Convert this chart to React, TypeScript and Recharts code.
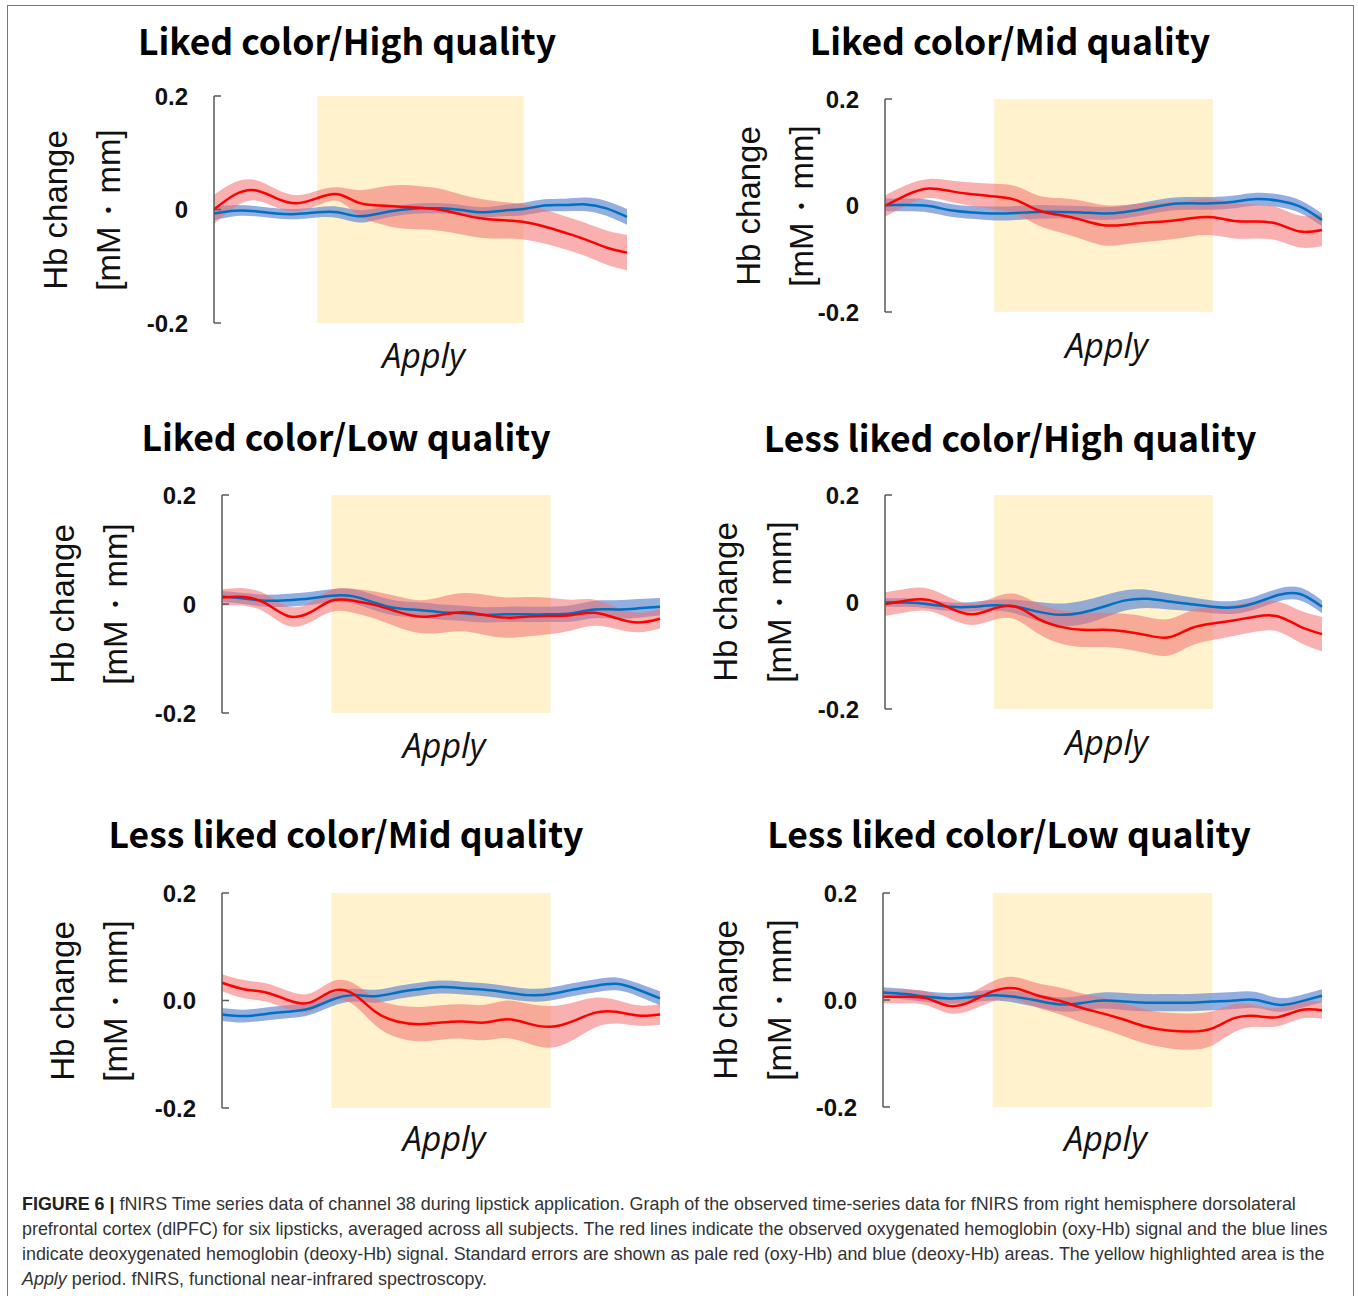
import React from "react";
import {
  ComposedChart,
  Line,
  Area,
  XAxis,
  YAxis,
  ReferenceArea,
} from "recharts";

// time (s) of each sample
const TIME = [0, 2, 4, 6, 8, 10, 12, 14, 16, 18, 20, 22, 24, 26, 28, 30, 32, 34, 36, 38, 40];
const APPLY_PERIOD = [10, 30];
const Y_TICKS = [0.2, 0, -0.2];
const TICK_LABELS_A = ["0.2", "0", "-0.2"];
const TICK_LABELS_B = ["0.2", "0.0", "-0.2"];

const TITLES = [
  "Liked color/High quality",
  "Liked color/Mid quality",
  "Liked color/Low quality",
  "Less liked color/High quality",
  "Less liked color/Mid quality",
  "Less liked color/Low quality",
];

// Liked color / High quality
const LH_OXY = [0.0, 0.026, 0.034, 0.02, 0.011, 0.02, 0.027, 0.012, 0.007, 0.005, 0.003, -0.001, -0.009, -0.016, -0.019, -0.022, -0.03, -0.041, -0.053, -0.067, -0.076];
const LH_OXY_SE = [0.026, 0.022, 0.018, 0.016, 0.014, 0.013, 0.012, 0.022, 0.032, 0.038, 0.038, 0.037, 0.035, 0.034, 0.032, 0.031, 0.03, 0.029, 0.029, 0.03, 0.031];
const LH_DEOXY = [-0.007, -0.002, -0.003, -0.007, -0.008, -0.005, -0.005, -0.012, -0.007, -0.001, 0.002, 0.002, -0.001, -0.005, -0.002, 0.001, 0.007, 0.008, 0.009, 0.002, -0.013];
const LH_DEOXY_SE = [0.012, 0.01, 0.009, 0.009, 0.009, 0.009, 0.01, 0.011, 0.01, 0.009, 0.009, 0.009, 0.009, 0.009, 0.01, 0.011, 0.011, 0.011, 0.012, 0.013, 0.014];

// Liked color / Mid quality
const LM_OXY = [-0.001, 0.02, 0.032, 0.027, 0.021, 0.017, 0.01, -0.009, -0.018, -0.027, -0.037, -0.036, -0.032, -0.029, -0.024, -0.022, -0.029, -0.03, -0.035, -0.049, -0.046];
const LM_OXY_SE = [0.02, 0.019, 0.018, 0.02, 0.022, 0.024, 0.026, 0.028, 0.032, 0.036, 0.038, 0.037, 0.036, 0.035, 0.034, 0.034, 0.033, 0.032, 0.031, 0.03, 0.03];
const LM_DEOXY = [0.001, 0.001, -0.001, -0.009, -0.013, -0.015, -0.014, -0.012, -0.012, -0.013, -0.015, -0.012, -0.005, 0.002, 0.004, 0.004, 0.007, 0.012, 0.009, -0.002, -0.027];
const LM_DEOXY_SE = [0.012, 0.012, 0.012, 0.012, 0.012, 0.013, 0.013, 0.013, 0.012, 0.012, 0.012, 0.012, 0.012, 0.012, 0.012, 0.012, 0.012, 0.012, 0.012, 0.012, 0.012];

// Liked color / Low quality
const LL_OXY = [0.012, 0.013, 0.001, -0.022, -0.016, 0.006, 0.006, -0.002, -0.014, -0.023, -0.02, -0.015, -0.02, -0.025, -0.023, -0.022, -0.02, -0.016, -0.026, -0.034, -0.027];
const LL_OXY_SE = [0.015, 0.016, 0.017, 0.018, 0.018, 0.02, 0.022, 0.025, 0.028, 0.03, 0.033, 0.035, 0.037, 0.037, 0.036, 0.033, 0.028, 0.024, 0.02, 0.018, 0.018];
const LL_DEOXY = [0.014, 0.01, 0.006, 0.007, 0.01, 0.015, 0.014, 0.002, -0.008, -0.011, -0.015, -0.017, -0.02, -0.019, -0.019, -0.019, -0.017, -0.01, -0.01, -0.008, -0.005];
const LL_DEOXY_SE = [0.01, 0.01, 0.011, 0.012, 0.012, 0.012, 0.013, 0.014, 0.014, 0.014, 0.014, 0.014, 0.014, 0.014, 0.014, 0.014, 0.015, 0.016, 0.017, 0.017, 0.016];

// Less liked color / High quality
const NH_OXY = [-0.004, 0.003, 0.004, -0.012, -0.023, -0.012, -0.009, -0.031, -0.046, -0.052, -0.052, -0.055, -0.062, -0.066, -0.049, -0.04, -0.034, -0.027, -0.027, -0.046, -0.06];
const NH_OXY_SE = [0.022, 0.022, 0.021, 0.02, 0.02, 0.021, 0.024, 0.028, 0.031, 0.032, 0.032, 0.033, 0.034, 0.034, 0.033, 0.031, 0.029, 0.028, 0.028, 0.03, 0.032];
const NH_DEOXY = [-0.001, -0.001, -0.004, -0.009, -0.009, -0.006, -0.009, -0.018, -0.024, -0.02, -0.009, 0.003, 0.006, 0.001, -0.004, -0.009, -0.01, -0.001, 0.013, 0.015, -0.009];
const NH_DEOXY_SE = [0.008, 0.008, 0.008, 0.008, 0.009, 0.01, 0.013, 0.018, 0.021, 0.022, 0.021, 0.019, 0.017, 0.015, 0.013, 0.012, 0.012, 0.012, 0.012, 0.012, 0.012];

// Less liked color / Mid quality
const NM_OXY = [0.033, 0.021, 0.015, 0.001, -0.004, 0.017, 0.012, -0.021, -0.039, -0.044, -0.041, -0.039, -0.041, -0.035, -0.043, -0.049, -0.039, -0.023, -0.021, -0.028, -0.026];
const NM_OXY_SE = [0.016, 0.017, 0.017, 0.017, 0.017, 0.018, 0.02, 0.025, 0.03, 0.032, 0.032, 0.032, 0.033, 0.035, 0.037, 0.039, 0.035, 0.028, 0.022, 0.019, 0.019];
const NM_DEOXY = [-0.026, -0.029, -0.025, -0.021, -0.015, 0.001, 0.01, 0.008, 0.015, 0.021, 0.025, 0.023, 0.02, 0.015, 0.01, 0.012, 0.02, 0.027, 0.031, 0.02, 0.004];
const NM_DEOXY_SE = [0.012, 0.012, 0.012, 0.012, 0.012, 0.012, 0.012, 0.012, 0.012, 0.012, 0.012, 0.012, 0.012, 0.012, 0.012, 0.012, 0.012, 0.012, 0.012, 0.012, 0.013];

// Less liked color / Low quality
const NL_OXY = [0.006, 0.006, 0.003, -0.011, -0.003, 0.016, 0.022, 0.009, -0.001, -0.014, -0.025, -0.037, -0.05, -0.057, -0.059, -0.053, -0.034, -0.03, -0.032, -0.019, -0.019];
const NL_OXY_SE = [0.012, 0.012, 0.013, 0.014, 0.016, 0.019, 0.021, 0.023, 0.025, 0.027, 0.029, 0.031, 0.032, 0.033, 0.034, 0.032, 0.026, 0.02, 0.017, 0.016, 0.016];
const NL_DEOXY = [0.014, 0.011, 0.006, 0.003, 0.005, 0.009, 0.006, -0.001, -0.008, -0.006, -0.001, -0.003, -0.005, -0.005, -0.005, -0.003, -0.001, 0.0, -0.009, -0.003, 0.008];
const NL_DEOXY_SE = [0.01, 0.01, 0.01, 0.01, 0.01, 0.01, 0.011, 0.012, 0.013, 0.014, 0.015, 0.016, 0.016, 0.016, 0.016, 0.016, 0.016, 0.015, 0.013, 0.012, 0.012];

const CAPTION_LINES = [
  "fNIRS Time series data of channel 38 during lipstick application. Graph of the observed time-series data for fNIRS from right hemisphere dorsolateral",
  "prefrontal cortex (dlPFC) for six lipsticks, averaged across all subjects. The red lines indicate the observed oxygenated hemoglobin (oxy-Hb) signal and the blue lines",
  "indicate deoxygenated hemoglobin (deoxy-Hb) signal. Standard errors are shown as pale red (oxy-Hb) and blue (deoxy-Hb) areas. The yellow highlighted area is the",
  "period. fNIRS, functional near-infrared spectroscopy.",
];

const series = [
  [LH_OXY, LH_OXY_SE, LH_DEOXY, LH_DEOXY_SE],
  [LM_OXY, LM_OXY_SE, LM_DEOXY, LM_DEOXY_SE],
  [LL_OXY, LL_OXY_SE, LL_DEOXY, LL_DEOXY_SE],
  [NH_OXY, NH_OXY_SE, NH_DEOXY, NH_DEOXY_SE],
  [NM_OXY, NM_OXY_SE, NM_DEOXY, NM_DEOXY_SE],
  [NL_OXY, NL_OXY_SE, NL_DEOXY, NL_DEOXY_SE],
];

// plot box of each panel on the page, plus where its texts sit
const layout = [
  { axisX: 214, right: 627, top: 96, bottom: 323, titleX: 347, titleY: 40, hbX: 55, unitX: 108, applyY: 355, ticks: TICK_LABELS_A },
  { axisX: 885, right: 1322, top: 99, bottom: 312, titleX: 1010, titleY: 40, hbX: 748, unitX: 801, applyY: 345, ticks: TICK_LABELS_A },
  { axisX: 222, right: 660, top: 495, bottom: 713, titleX: 346, titleY: 436, hbX: 62, unitX: 115, applyY: 745, ticks: TICK_LABELS_A },
  { axisX: 885, right: 1322, top: 495, bottom: 709, titleX: 1010, titleY: 437, hbX: 725, unitX: 779, applyY: 742, ticks: TICK_LABELS_A },
  { axisX: 222, right: 660, top: 893, bottom: 1108, titleX: 346, titleY: 833, hbX: 62, unitX: 115, applyY: 1138, ticks: TICK_LABELS_B },
  { axisX: 883, right: 1322, top: 893, bottom: 1107, titleX: 1009, titleY: 833, hbX: 725, unitX: 779, applyY: 1138, ticks: TICK_LABELS_B },
];

const AXIS_W = 80;
const PAD = 20;

function makeTick(labels: string[]) {
  return (props: any) => {
    const { x, y, payload } = props;
    const i = Y_TICKS.indexOf(payload.value);
    return (
      <g>
        <line x1={x} x2={x + 7} y1={y} y2={y} stroke="#595959" strokeWidth={1.5} />
        <text
          x={x - 26}
          y={y}
          textAnchor="end"
          dominantBaseline="central"
          style={{ fontFamily: "Liberation Sans, Arial, sans-serif", fontWeight: 700, fontSize: 24 }}
          fill="#111"
        >
          {labels[i]}
        </text>
      </g>
    );
  };
}

const abs = (extra: React.CSSProperties): React.CSSProperties => ({
  position: "absolute",
  whiteSpace: "nowrap",
  lineHeight: 1,
  ...extra,
});

function Panel({ idx }: { idx: number }) {
  const p = layout[idx];
  const [oxy, oxySe, deoxy, deoxySe] = series[idx];
  const rows = TIME.map((t, i) => ({
    t,
    oxy: oxy[i],
    deoxy: deoxy[i],
    oxyBand: [oxy[i] - oxySe[i], oxy[i] + oxySe[i]],
    deoxyBand: [deoxy[i] - deoxySe[i], deoxy[i] + deoxySe[i]],
  }));
  const w = AXIS_W + (p.right - p.axisX) + PAD;
  const h = p.bottom - p.top + PAD * 2;
  const applyCx = (p.axisX + p.right) / 2;
  const midY = (p.top + p.bottom) / 2;

  return (
    <>
      <div style={abs({ left: p.titleX, top: p.titleY, transform: "translate(-50%,-50%)", fontFamily: "Noto Sans CJK JP, Noto Sans, sans-serif", fontWeight: 700, fontSize: 35.5, color: "#000" })}>
        {TITLES[idx]}
      </div>
      <div style={abs({ left: p.hbX, top: midY, transform: "translate(-50%,-50%) rotate(-90deg)", fontFamily: "Liberation Sans, Arial, sans-serif", fontSize: 33, color: "#111" })}>
        Hb change
      </div>
      <div style={abs({ left: p.unitX, top: midY, transform: "translate(-50%,-50%) rotate(-90deg)", fontFamily: "Liberation Sans, Arial, sans-serif", fontSize: 33, color: "#111" })}>
        [mM・mm]
      </div>
      <div style={abs({ left: applyCx + 3, top: p.applyY, transform: "translate(-50%,-50%)", fontFamily: "Open Sans, sans-serif", fontStyle: "italic", fontSize: 34, color: "#111" })}>
        Apply
      </div>
      <div style={{ position: "absolute", left: p.axisX - AXIS_W, top: p.top - PAD }}>
        <ComposedChart width={w} height={h} data={rows} margin={{ top: PAD, right: PAD, bottom: PAD, left: 0 }}>
          <XAxis dataKey="t" type="number" domain={[TIME[0], TIME[TIME.length - 1]]} hide />
          <YAxis
            type="number"
            domain={[-0.2, 0.2]}
            ticks={Y_TICKS}
            width={AXIS_W}
            tickSize={0}
            tickMargin={0}
            tickLine={false}
            axisLine={{ stroke: "#595959", strokeWidth: 1.5 }}
            tick={makeTick(p.ticks)}
            interval={0}
          />
          <ReferenceArea x1={APPLY_PERIOD[0]} x2={APPLY_PERIOD[1]} y1={-0.2} y2={0.2} fill="#fff2cc" fillOpacity={1} stroke="none" />
          <Area type="natural" dataKey="deoxyBand" stroke="none" fill="#5b83cf" fillOpacity={0.65} isAnimationActive={false} />
          <Area type="natural" dataKey="oxyBand" stroke="none" fill="#f36f6f" fillOpacity={0.55} isAnimationActive={false} />
          <Line type="natural" dataKey="deoxy" stroke="#0070c0" strokeWidth={2.5} dot={false} isAnimationActive={false} />
          <Line type="natural" dataKey="oxy" stroke="#ff0000" strokeWidth={2.5} dot={false} isAnimationActive={false} />
        </ComposedChart>
      </div>
    </>
  );
}

export default function App() {
  return (
    <div style={{ position: "relative", width: 1358, height: 1296, background: "#fff", overflow: "hidden" }}>
      <style>{`body{margin:0}`}</style>
      <div style={{ position: "absolute", left: 7, top: 5, width: 1347, height: 1300, border: "1.5px solid #777", boxSizing: "border-box" }} />
      {layout.map((_, i) => (
        <Panel key={i} idx={i} />
      ))}
      {CAPTION_LINES.map((line, i) => (
        <div
          key={i}
          style={{
            position: "absolute",
            left: 22,
            top: 1192 + i * 25,
            height: 25,
            lineHeight: "25px",
            whiteSpace: "nowrap",
            fontFamily: "Liberation Sans, Arial, sans-serif",
            fontSize: 17.9,
            color: "#333",
          }}
        >
          {i === 0 && <b style={{ color: "#222" }}>FIGURE 6 | </b>}
          {i === 3 && <i>Apply </i>}
          {line}
        </div>
      ))}
    </div>
  );
}
